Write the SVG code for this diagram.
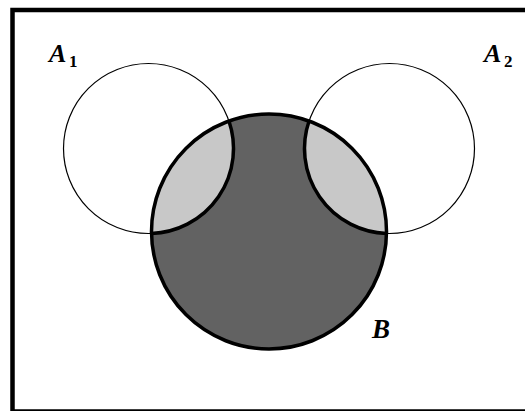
<svg xmlns="http://www.w3.org/2000/svg" width="525" height="411" viewBox="0 0 525 411">
<style>
.lbl{font-family:"Liberation Serif",serif;font-weight:bold;font-style:italic;fill:#000}
.sub{font-family:"Liberation Serif",serif;font-weight:bold;fill:#000}
.thin{fill:none;stroke:#000;stroke-width:1.2}
.thick{fill:none;stroke:#000;stroke-width:3.5}
</style>
<rect x="0" y="0" width="525" height="411" fill="#fff"/>
<rect x="12.5" y="10" width="600" height="401.5" fill="#fff" stroke="#000" stroke-width="4.5"/>
<g id="B">
<circle cx="269" cy="231.5" r="117.5" fill="#626262"/>
</g>
<g id="lens1">
<path d="M228.95 121.04 A117.5 117.5 0 0 0 151.51 233.44 A85 85 0 0 0 228.95 121.04 Z" fill="#c8c8c8"/>
</g>
<g id="lens2">
<path d="M309.05 121.04 A117.5 117.5 0 0 1 386.49 233.44 A85 85 0 0 1 309.05 121.04 Z" fill="#c8c8c8"/>
</g>
<g id="A1">
<circle class="thin" cx="148.5" cy="148.5" r="85"/>
<path class="thick" d="M151.51 233.44 A85 85 0 0 0 228.95 121.04"/>
<text class="lbl" x="49" y="62" font-size="26">A</text>
<text class="sub" x="69" y="67" font-size="17">1</text>
</g>
<g id="A2">
<circle class="thin" cx="389.5" cy="148.5" r="85"/>
<path class="thick" d="M386.49 233.44 A85 85 0 0 1 309.05 121.04"/>
<text class="lbl" x="484" y="62" font-size="26">A</text>
<text class="sub" x="504" y="67" font-size="17">2</text>
</g>
<g id="Bout">
<circle class="thick" cx="269" cy="231.5" r="117.5"/>
<text class="lbl" x="372" y="338" font-size="27">B</text>
</g>
</svg>
